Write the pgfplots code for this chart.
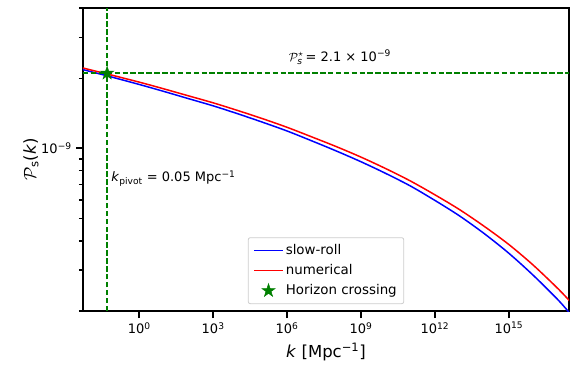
\documentclass[border=0pt]{standalone}
\usepackage{amsmath}
\usepackage{pgfplots}
\pgfplotsset{compat=1.18}
\usepackage{fontspec}
\setmainfont{DejaVu Sans}
\definecolor{mplgreen}{RGB}{0,128,0}
\definecolor{legframe}{RGB}{204,204,204}
\pgfdeclareplotmark{fstar}{%
  \pgfpathmoveto{\pgfpointpolar{90}{\pgfplotmarksize}}%
  \pgfpathlineto{\pgfpointpolar{126}{0.382*\pgfplotmarksize}}%
  \pgfpathlineto{\pgfpointpolar{162}{\pgfplotmarksize}}%
  \pgfpathlineto{\pgfpointpolar{198}{0.382*\pgfplotmarksize}}%
  \pgfpathlineto{\pgfpointpolar{234}{\pgfplotmarksize}}%
  \pgfpathlineto{\pgfpointpolar{270}{0.382*\pgfplotmarksize}}%
  \pgfpathlineto{\pgfpointpolar{306}{\pgfplotmarksize}}%
  \pgfpathlineto{\pgfpointpolar{342}{0.382*\pgfplotmarksize}}%
  \pgfpathlineto{\pgfpointpolar{18}{\pgfplotmarksize}}%
  \pgfpathlineto{\pgfpointpolar{54}{0.382*\pgfplotmarksize}}%
  \pgfpathclose
  \pgfusepathqfillstroke}
\pgfplotsset{
  linelegend/.style={legend image code/.code={\draw[mark repeat=2,mark phase=2,##1] plot coordinates {(0pt,0pt) (14.5pt,0pt) (29pt,0pt)};}},
  starlegend/.style={legend image code/.code={\draw[##1] plot coordinates {(14.5pt,0pt)};}},
}
\pgfplotstableread{
x y
5.012e-3 2.178e-9
0.0501 2.046e-9
1 1.879e-9
1e1 1.754e-9
1e2 1.633e-9
1e3 1.521e-9
1e4 1.406e-9
1e5 1.294e-9
1e6 1.186e-9
1e7 1.076e-9
1e8 0.973e-9
1e9 0.875e-9
1e10 0.780e-9
1e11 0.689e-9
1e12 0.597e-9
1e13 0.512e-9
1e14 0.430e-9
1e15 0.354e-9
1e16 0.284e-9
1e17 0.223e-9
3.162e17 0.194e-9
}\slowroll
\pgfplotstableread{
x y
5.012e-3 2.213e-9
0.0501 2.084e-9
1 1.923e-9
1e1 1.799e-9
1e2 1.679e-9
1e3 1.567e-9
1e4 1.452e-9
1e5 1.340e-9
1e6 1.230e-9
1e7 1.119e-9
1e8 1.016e-9
1e9 0.916e-9
1e10 0.818e-9
1e11 0.724e-9
1e12 0.631e-9
1e13 0.545e-9
1e14 0.462e-9
1e15 0.386e-9
1e16 0.314e-9
1e17 0.249e-9
3.162e17 0.219e-9
}\numerical
\begin{document}
\begin{tikzpicture}
\begin{axis}[
  scale only axis, width=486pt, height=303pt,
  xmode=log, ymode=log,
  xmin=5.25e-3, xmax=2.75e17, ymin=2e-10, ymax=4e-9,
  line width=2pt,
  axis line style={line width=2pt},
  tick align=outside, tick pos=left,
  major tick length=7pt, minor tick length=4pt,
  major tick style={line width=1.6pt, black},
  minor tick style={line width=1.2pt, black},
  xtick={1,1e3,1e6,1e9,1e12,1e15},
  xticklabels={10\textsuperscript{0},10\textsuperscript{3},10\textsuperscript{6},10\textsuperscript{9},10\textsuperscript{12},10\textsuperscript{15}},
  xminorticks=false,
  ytick={1e-9},
  yticklabels={10\textsuperscript{−9}},
  minor ytick={2e-10,3e-10,4e-10,5e-10,6e-10,7e-10,8e-10,9e-10,2e-9,3e-9,4e-9},
  ticklabel style={font=\fontsize{13}{15}\selectfont},
  xlabel={\textit{k} [Mpc\textsuperscript{−1}]},
  ylabel={$\mathcal{P}$\textsubscript{s}(\textit{k})},
  label style={font=\fontsize{16.5}{19}\selectfont},
  xlabel style={at={(axis description cs:0.5,-0.135)}, anchor=center},
  ylabel style={at={(axis description cs:-0.107,0.5)}, anchor=center},
  legend cell align=left,
  legend style={at={(axis description cs:0.5,0.023)}, anchor=south,
    draw=legframe, line width=0.8pt, rounded corners=2pt, fill=white,
    font=\fontsize{13.4}{15}\selectfont, inner xsep=5pt, inner ysep=3pt,
    row sep=0pt, nodes={text height=10pt, text depth=3.2pt, inner ysep=3.4pt},
    /tikz/every even column/.append style={column sep=9pt}},
]
\addplot[blue, line width=1.5pt, smooth, linelegend] table[x=x,y=y] {\slowroll};
\addlegendentry{slow-roll}
\addplot[red, line width=1.5pt, smooth, linelegend] table[x=x,y=y] {\numerical};
\addlegendentry{numerical}
\addplot[mplgreen, line width=1.5pt, dash pattern=on 5.5pt off 2.4pt, forget plot] coordinates {(5.25e-3,2.1e-9) (2.75e17,2.1e-9)};
\addplot[mplgreen, line width=1.5pt, dash pattern=on 5.5pt off 2.4pt, forget plot] coordinates {(0.05,2e-10) (0.05,4e-9)};
\addplot[only marks, mark=fstar, mark size=7pt, mark options={fill=mplgreen, draw=mplgreen, line width=0.5pt}, starlegend] coordinates {(0.05,2.1e-9)};
\addlegendentry{Horizon crossing}
\node[anchor=center, font=\fontsize{13}{15}\selectfont] at (axis cs:1.4e8,2.46e-9)
  {$\mathcal{P}_{\text{\itshape s}}^{\star}$\,= 2.1 × 10\textsuperscript{−9}};
\node[anchor=west, inner sep=0pt, font=\fontsize{13}{15}\selectfont] at (axis cs:0.068,7.4e-10)
  {\textit{k}\textsubscript{pivot} = 0.05 Mpc\textsuperscript{−1}};
\end{axis}
\path (current axis.south west) ++(-83pt,-49pt);
\path (current axis.north east) ++(2pt,8pt);
\end{tikzpicture}
\end{document}
